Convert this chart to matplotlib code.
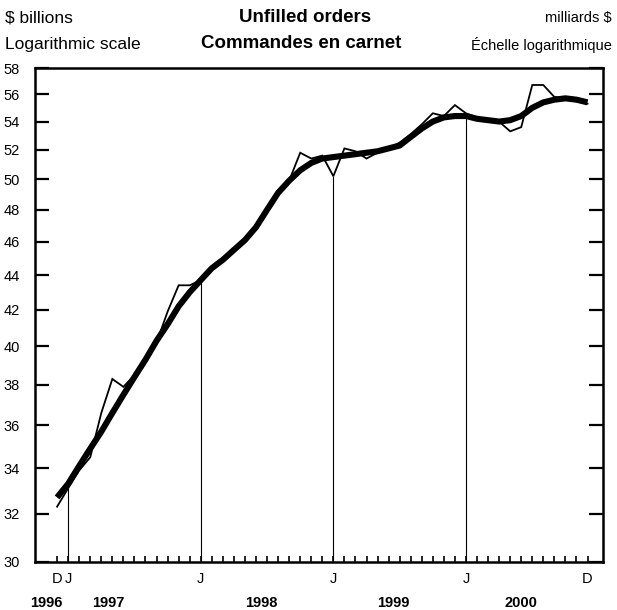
import numpy as np
import matplotlib
matplotlib.use("Agg")
import matplotlib.pyplot as plt
from matplotlib.ticker import FixedLocator, NullLocator, FuncFormatter

plt.rcParams['font.family'] = ['Liberation Sans', 'DejaVu Sans']

# monthly data, Dec 1996 .. Dec 2000 ($ billions)
raw_orders = [
    32.3,
    33.1, 33.9, 34.5, 36.6, 38.3, 37.9, 38.5, 39.4, 40.2, 41.9, 43.4, 43.4,
    43.7, 44.4, 45.0, 45.5, 46.1, 46.9, 48.0, 49.1, 49.9, 51.8, 51.4, 51.6,
    50.2, 52.1, 51.9, 51.4, 51.8, 52.1, 52.5, 53.1, 53.8, 54.6, 54.4, 55.2,
    54.6, 54.3, 54.1, 54.0, 53.3, 53.6, 56.7, 56.7, 55.8, 55.7, 55.6, 55.3,
]
trend_orders = [
    32.7,
    33.3, 34.1, 34.9, 35.7, 36.6, 37.5, 38.4, 39.3, 40.3, 41.2, 42.2, 43.0,
    43.7, 44.4, 44.9, 45.5, 46.1, 46.9, 48.0, 49.1, 49.9, 50.6, 51.1, 51.4,
    51.5, 51.6, 51.7, 51.8, 51.9, 52.1, 52.3, 52.9, 53.5, 54.0, 54.3, 54.4,
    54.4, 54.2, 54.1, 54.0, 54.1, 54.4, 55.0, 55.4, 55.6, 55.7, 55.6, 55.4,
]
month_letters = ['D', 'J', 'J', 'J', 'J', 'D']
letter_months = [0, 1, 13, 25, 37, 48]
years = ['1996', '1997', '1998', '1999', '2000']
january_months = [1, 13, 25, 37]
y_ticks = list(range(30, 60, 2))

months = np.arange(len(raw_orders))
raw = np.array(raw_orders)
trend = np.array(trend_orders)

fig = plt.figure(figsize=(6.17, 6.10), dpi=100)
ax = fig.add_axes([0.0567, 0.0787, 0.9206, 0.8098])

# January reference lines
for m in january_months:
    ax.vlines(m, 30, raw[m], color='black', lw=0.8)

ax.plot(months, raw, color='black', lw=1.3, solid_joinstyle='miter')
ax.plot(months, trend, color='black', lw=4.4, solid_capstyle='butt',
        solid_joinstyle='round')

ax.set_yscale('log')
ax.set_ylim(30, 58)
ax.set_xlim(-2.0, 49.4)

ax.yaxis.set_major_locator(FixedLocator(y_ticks))
ax.yaxis.set_minor_locator(NullLocator())
ax.yaxis.set_major_formatter(FuncFormatter(lambda v, p: '%d' % round(v)))
ax.tick_params(axis='y', which='major', direction='in', length=10, width=1.6,
               labelsize=10.5, pad=11, left=True, right=True)

ax.xaxis.set_major_locator(FixedLocator(months))
ax.xaxis.set_minor_locator(NullLocator())
ax.tick_params(axis='x', which='major', direction='in', length=4, width=1.2,
               labelbottom=False)

for s in ax.spines.values():
    s.set_linewidth(1.8)

# month letters and years under the axis
trans = ax.get_xaxis_transform()
for lab, m in zip(month_letters, letter_months):
    ax.text(m, -0.035, lab, transform=trans, ha='center', va='center',
            fontsize=10.5)
year_pos = [-1.0, 4.6, 18.5, 30.4, 42.0]
for lab, xp in zip(years, year_pos):
    ax.text(xp, -0.083, lab, transform=trans, ha='center', va='center',
            fontsize=10.5, fontweight='bold')

# header
fig.text(5 / 617, 1 - 18 / 610, '$ billions', ha='left', va='center', fontsize=12.5)
fig.text(5 / 617, 1 - 45 / 610, 'Logarithmic scale', ha='left', va='center', fontsize=12.5)
fig.text(305 / 617, 1 - 17 / 610, 'Unfilled orders', ha='center', va='center',
         fontsize=13.5, fontweight='bold')
fig.text(301 / 617, 1 - 44 / 610, 'Commandes en carnet', ha='center', va='center',
         fontsize=13.5, fontweight='bold')
fig.text(612 / 617, 1 - 18 / 610, 'milliards $', ha='right', va='center', fontsize=10.5)
fig.text(612 / 617, 1 - 45 / 610, 'Échelle logarithmique', ha='right', va='center',
         fontsize=10.5)

fig.savefig('out.png', dpi=100)
